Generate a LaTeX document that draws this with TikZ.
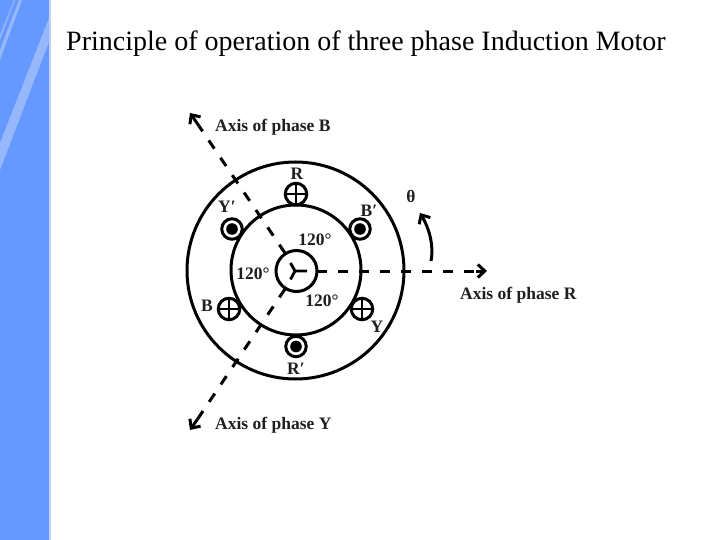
\documentclass[tikz,border=0pt]{standalone}
\usepackage{fontspec}
\setmainfont{Liberation Serif}
\usetikzlibrary{arrows.meta}
\definecolor{bandblue}{RGB}{102,153,255}
\definecolor{streak}{RGB}{150,184,250}
\definecolor{edgeblue}{RGB}{190,210,250}
\tikzset{
  ring/.style={draw=black,line width=3pt,circle,inner sep=0pt,fill=none},
  crosscond/.style={draw=black,line width=3pt,circle,fill=white,inner sep=0pt,minimum size=21.5pt,
    path picture={\draw[black,line width=2.4pt] (path picture bounding box.north)--(path picture bounding box.south)
      (path picture bounding box.west)--(path picture bounding box.east);}},
  dotcond/.style={draw=black,line width=3pt,circle,fill=white,inner sep=0pt,minimum size=20.5pt,
    path picture={\fill[black] (path picture bounding box.center) circle (5.8pt);}},
  lbl/.style={font=\bfseries\fontsize{17.5}{19}\selectfont,inner sep=0pt,text=black!88},
  axisline/.style={line width=3pt,dash pattern=on 10pt off 11pt},
  axishead/.style={line width=3pt,-{Straight Barb[length=7pt,width=13pt,line width=3pt]}},
}
\begin{document}
\begin{tikzpicture}[x=1pt,y=-1pt]
\useasboundingbox (0,0) rectangle (720,540);
\fill[white] (0,0) rectangle (720,540);
\fill[bandblue] (0,0) rectangle (49,540);
\fill[edgeblue] (49,0) rectangle (50.5,540);
\fill[streak] (49,18) -- (49,42) -- (0,170) -- (0,143) -- cycle;
\fill[streak] (22,0) -- (19,0) -- (0,50) -- (0,60) -- cycle;
\fill[streak] (15,0) -- (14,0) -- (0,35) -- (0,40) -- cycle;
\node[font=\fontsize{28}{32}\selectfont,anchor=base west,inner sep=0pt] (title) at (66,51) {Principle of operation of three phase Induction Motor};

\node[ring,minimum size=217pt] (outer) at (295.5,270.5) {};
\node[ring,minimum size=130pt] (middle) at (296,270) {};
\node[ring,minimum size=41pt] (inner) at (296.5,271) {};

\coordinate (hub) at (295,271);
\coordinate (armR) at (307,271);
\coordinate (armB) at (290.5,263);
\coordinate (armY) at (290.5,279.5);
\draw[line width=2.8pt] (armB) -- (hub) -- (armY) (hub) -- (armR);

\coordinate (startR) at (317,271);
\coordinate (endR) at (476,271);
\coordinate (tipR) at (487,271);
\coordinate (startB) at (285,253);
\coordinate (endB) at (199,126);
\coordinate (tipB) at (190,113);
\coordinate (startY) at (285,289);
\coordinate (endY) at (199,417);
\coordinate (tipY) at (190,430);
\draw[axisline] (startR) -- (endR);
\draw[axisline] (startB) -- (endB);
\draw[axisline] (startY) -- (endY);
\draw[axishead] (endR) -- (tipR);
\draw[axishead] (endB) -- (tipB);
\draw[axishead] (endY) -- (tipY);

\node[crosscond] (R) at (296,194) {};
\node[dotcond] (Bp) at (360,229) {};
\node[dotcond] (Yp) at (232,229) {};
\node[crosscond] (B) at (229,309) {};
\node[crosscond] (Y) at (362,309) {};
\node[dotcond] (Rp) at (296,346.5) {};

\node[lbl] (lR) at (297,174) {R};
\node[lbl] (lBp) at (369,211) {B′};
\node[lbl] (lYp) at (227,207) {Y′};
\node[lbl] (lB) at (207,306) {B};
\node[lbl] (lY) at (377,327) {Y};
\node[lbl] (lRp) at (296,369) {R′};
\node[lbl] (a1) at (315,240) {120°};
\node[lbl] (a2) at (253,274) {120°};
\node[lbl] (a3) at (322,301) {120°};
\node[lbl] (th) at (411,196) {θ};
\node[lbl,anchor=base west] (axB) at (215,132) {Axis of phase B};
\node[lbl,anchor=base west] (axY) at (215,429) {Axis of phase Y};
\node[lbl,anchor=base west] (axR) at (460,299) {Axis of phase R};

\coordinate (thA) at (431,261);
\coordinate (thB) at (420,213);
\draw[line width=3pt,-{Straight Barb[length=7pt,width=13pt,line width=3pt]}] (thA) .. controls (434,245) and (429,228) .. (thB);
\end{tikzpicture}
\end{document}
